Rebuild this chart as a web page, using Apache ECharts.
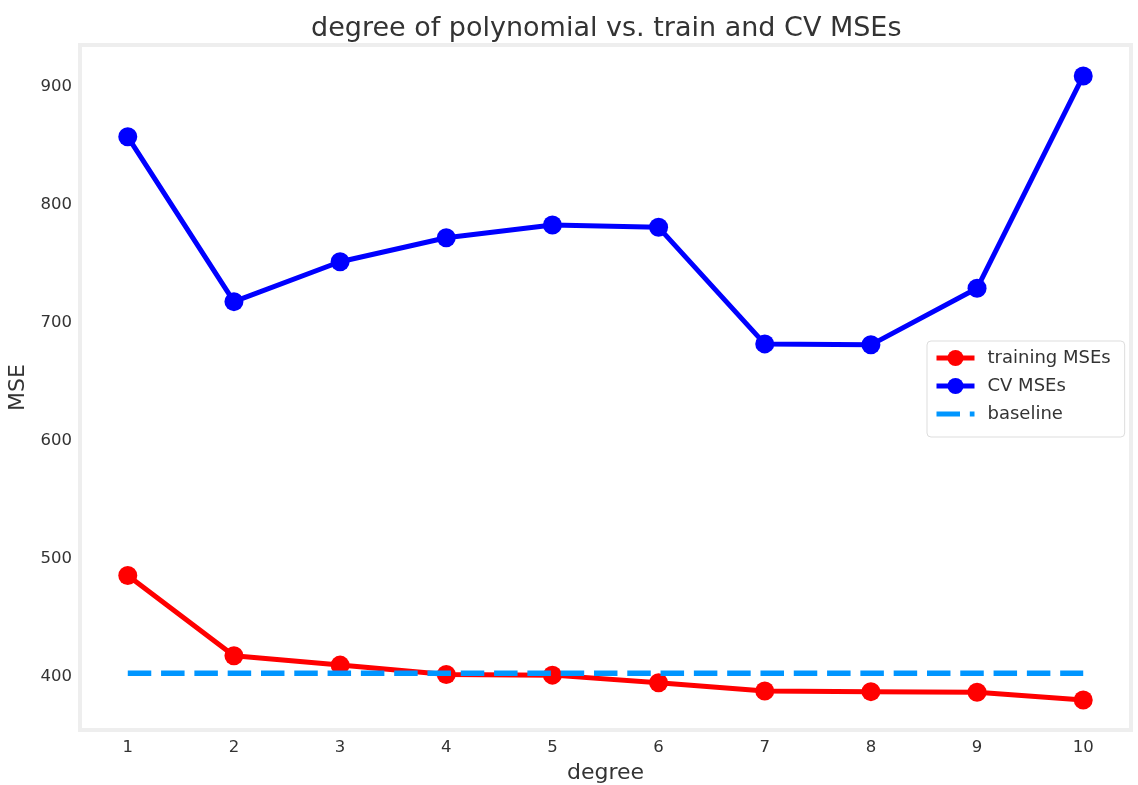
<!DOCTYPE html>
<html>
<head>
<meta charset="utf-8">
<script src="https://cdn.jsdelivr.net/npm/echarts@6/dist/echarts.min.js"></script>
<style>
  html, body { margin: 0; padding: 0; background: #fff; }
  #chart { width: 1138px; height: 785px; }
</style>
</head>
<body>
<div id="chart"></div>
<script>
// data
const degrees = [1, 2, 3, 4, 5, 6, 7, 8, 9, 10]
const trainMSEs = [486, 418, 410, 402, 401.5, 395, 388, 387.5, 387, 380.5]
const cvMSEs = [857.7, 718, 751.8, 772.2, 782.9, 781, 682.2, 681.4, 729.3, 909.3]
const baselineMSEs = [403, 403, 403, 403, 403, 403, 403, 403, 403, 403]
const yTicks = [400, 500, 600, 700, 800, 900]

const FONT = 'DejaVu Sans'
const TEXT = '#333333'

const toPairs = (ys) => degrees.map((d, i) => [d, ys[i]])

const chart = echarts.init(document.getElementById('chart'), null, { renderer: 'canvas' })

const lineSeries = (name, ys, color, z) => ({
  name,
  type: 'line',
  data: toPairs(ys),
  z,
  symbol: 'circle',
  symbolSize: 19,
  itemStyle: { color },
  lineStyle: { color, width: 5 },
  emphasis: { disabled: true },
  animation: false
})

const option = {
  backgroundColor: '#ffffff',
  textStyle: { fontFamily: FONT },
  title: {
    text: 'degree of polynomial vs. train and CV MSEs',
    left: 311,
    top: 15,
    padding: 0,
    textStyle: { fontFamily: FONT, fontSize: 27, fontWeight: 'normal', color: TEXT }
  },
  grid: {
    left: 80, right: 7, top: 45, bottom: 55,
    outerBoundsMode: 'none',
    containLabel: false,
    show: true,
    borderColor: '#eeeeee',
    borderWidth: 4,
    backgroundColor: '#ffffff'
  },
  legend: {
    orient: 'vertical',
    left: 927,
    top: 341,
    padding: [7, 14, 13, 7],
    itemWidth: 38,
    itemHeight: 20,
    itemGap: 8,
    backgroundColor: '#ffffff',
    borderColor: '#dddddd',
    borderWidth: 1,
    borderRadius: 4,
    lineStyle: { width: 5 },
    textStyle: { fontFamily: FONT, fontSize: 18, color: TEXT, lineHeight: 20, padding: [0, 0, 0, 8] },
    data: [
      'training MSEs',
      'CV MSEs',
      { name: 'baseline', itemStyle: { opacity: 0 } }
    ]
  },
  xAxis: {
    type: 'value',
    min: 0.55,
    max: 10.45,
    name: 'degree',
    nameLocation: 'middle',
    nameGap: 32,
    nameTextStyle: { fontFamily: FONT, fontSize: 22, color: TEXT },
    axisLine: { show: false },
    axisTick: { show: false },
    splitLine: { show: false },
    axisLabel: { customValues: degrees, margin: 9, fontFamily: FONT, fontSize: 16.5, color: TEXT }
  },
  yAxis: {
    type: 'value',
    min: 355,
    max: 935.5,
    name: 'MSE',
    nameLocation: 'middle',
    nameGap: 45,
    nameRotate: 90,
    nameTextStyle: { fontFamily: FONT, fontSize: 22, color: TEXT },
    axisLine: { show: false },
    axisTick: { show: false },
    splitLine: { show: false },
    axisLabel: { customValues: yTicks, margin: 8, fontFamily: FONT, fontSize: 16.5, color: TEXT }
  },
  series: [
    lineSeries('training MSEs', trainMSEs, '#ff0000', 2),
    lineSeries('CV MSEs', cvMSEs, '#0000ff', 3),
    {
      name: 'baseline',
      type: 'line',
      data: toPairs(baselineMSEs),
      z: 4,
      symbol: 'none',
      itemStyle: { color: '#0096ff' },
      lineStyle: { color: '#0096ff', width: 5.5, type: [23.5, 9.8], cap: 'butt' },
      emphasis: { disabled: true },
      animation: false
    }
  ]
}

chart.setOption(option)
</script>
</body>
</html>
